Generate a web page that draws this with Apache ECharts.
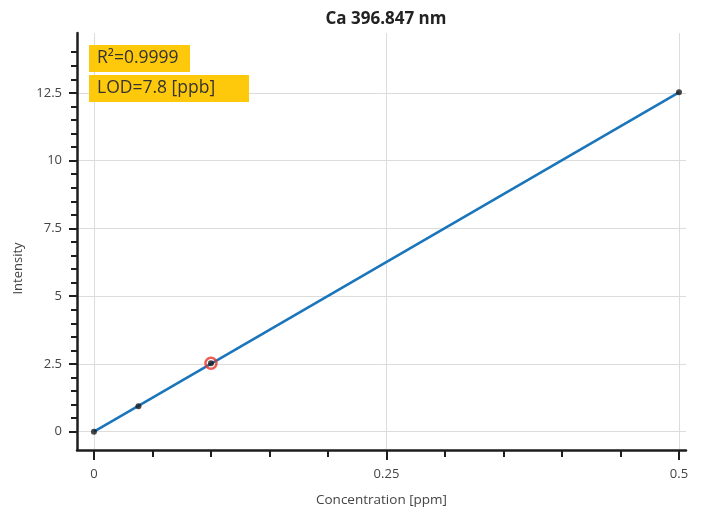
<!DOCTYPE html>
<html>
<head>
<meta charset="utf-8">
<script src="https://cdn.jsdelivr.net/npm/echarts@6/dist/echarts.min.js"></script>
<style>html,body{margin:0;padding:0;background:#fff}#c{width:707px;height:512px}</style>
</head>
<body>
<div id="c"></div>
<script>
// Data
var POINTS_X = [0, 0.038, 0.1, 0.5];
var POINTS_Y = [0, 0.94, 2.525, 12.52];
var HIGHLIGHT_X = [0.1];
var HIGHLIGHT_Y = [2.525];
var FIT_X = [0, 0.5];
var FIT_Y = [0, 12.52];
var X_MAJOR = [0, 0.25, 0.5];
var X_MINOR = [0, 0.05, 0.1, 0.15, 0.2, 0.25, 0.3, 0.35, 0.4, 0.45, 0.5];
var Y_MAJOR = [0, 2.5, 5, 7.5, 10, 12.5];
var Y_MINOR = [0,0.5,1,1.5,2,2.5,3,3.5,4,4.5,5,5.5,6,6.5,7,7.5,8,8.5,9,9.5,10,10.5,11,11.5,12,12.5,13,13.5,14];
var TITLE = 'Ca 396.847 nm';
var X_NAME = 'Concentration [ppm]';
var Y_NAME = 'Intensity';
var R2_TEXT = 'R²=0.9999';
var LOD_TEXT = 'LOD=7.8 [ppb]';

var FONT = 'Open Sans';
var XMIN = -0.0145, XMAX = 0.506, YMIN = -0.676, YMAX = 14.71;

function zip(a, b) { return a.map(function (v, i) { return [v, b[i]]; }); }

var chart = echarts.init(document.getElementById('c'), null, {renderer: 'canvas'});
var axisLineStyle = {color: '#1e1e1e', width: 2.5};
var option = {
  animation: false,
  textStyle: {fontFamily: FONT},
  title: {
    text: TITLE, left: 381, top: 6, textAlign: 'center',
    textStyle: {fontFamily: FONT, fontSize: 17, fontWeight: 'bold', color: '#222'}
  },
  grid: {left: 77, right: 21, top: 33, bottom: 58, containLabel: false},
  xAxis: [
    {
      type: 'value', min: XMIN, max: XMAX, position: 'bottom',
      name: X_NAME, nameLocation: 'middle', nameGap: 43,
      nameTextStyle: {fontFamily: FONT, fontSize: 13.5, color: '#444'},
      axisLine: {show: true, onZero: false, lineStyle: axisLineStyle},
      axisTick: {show: true, customValues: X_MAJOR, length: 10, lineStyle: {color: '#1e1e1e', width: 2}},
      axisLabel: {customValues: X_MAJOR, margin: 18, color: '#444', fontSize: 13, fontFamily: FONT},
      splitLine: {show: true, lineStyle: {color: '#dcdcdc', width: 1}}
    },
    {
      type: 'value', min: XMIN, max: XMAX, position: 'bottom',
      axisLine: {show: false, onZero: false},
      axisTick: {show: true, customValues: X_MINOR, length: 7, lineStyle: {color: '#1e1e1e', width: 2}},
      axisLabel: {show: false},
      splitLine: {show: false}
    }
  ],
  yAxis: [
    {
      type: 'value', min: YMIN, max: YMAX, position: 'left',
      name: Y_NAME, nameLocation: 'middle', nameGap: 52, nameRotate: 90,
      nameTextStyle: {fontFamily: FONT, fontSize: 13, color: '#444', padding: [0, 54, 0, 0]},
      axisLine: {show: true, onZero: false, lineStyle: axisLineStyle},
      axisTick: {show: true, customValues: Y_MAJOR, length: 8, lineStyle: {color: '#1e1e1e', width: 2}},
      axisLabel: {customValues: Y_MAJOR, margin: 15, color: '#444', fontSize: 13, fontFamily: FONT, verticalAlign: 'middle', padding: [0, 0, 5, 0]},
      splitLine: {show: true, lineStyle: {color: '#dcdcdc', width: 1}}
    },
    {
      type: 'value', min: YMIN, max: YMAX, position: 'left',
      axisLine: {show: false, onZero: false},
      axisTick: {show: true, customValues: Y_MINOR, length: 6, lineStyle: {color: '#1e1e1e', width: 2}},
      axisLabel: {show: false},
      splitLine: {show: false}
    }
  ],
  series: [
    {
      type: 'line', xAxisIndex: 0, yAxisIndex: 0, data: zip(FIT_X, FIT_Y),
      showSymbol: false, symbol: 'none',
      lineStyle: {color: '#1a75bb', width: 2.5}, z: 2
    },
    {
      type: 'scatter', xAxisIndex: 0, yAxisIndex: 0, data: zip(HIGHLIGHT_X, HIGHLIGHT_Y),
      symbol: 'circle', symbolSize: 11,
      itemStyle: {color: 'rgba(255,255,255,0)', borderColor: '#e8342c', borderWidth: 2.5}, z: 3
    },
    {
      type: 'scatter', xAxisIndex: 0, yAxisIndex: 0, data: zip(POINTS_X, POINTS_Y),
      symbol: 'circle', symbolSize: 6,
      itemStyle: {color: '#1a1a1a'}, z: 4
    }
  ],
  graphic: [
    {type: 'rect', left: 89, top: 45, shape: {width: 101, height: 27}, style: {fill: '#ffc90b'}, z: 10},
    {type: 'text', left: 97, top: 46, style: {text: R2_TEXT, font: '17.5px "' + FONT + '"', fill: '#333', lineHeight: 24, verticalAlign: 'top'}, z: 11},
    {type: 'rect', left: 89, top: 75, shape: {width: 160, height: 27}, style: {fill: '#ffc90b'}, z: 10},
    {type: 'text', left: 97, top: 76, style: {text: LOD_TEXT, font: '17.5px "' + FONT + '"', fill: '#333', lineHeight: 24, verticalAlign: 'top'}, z: 11}
  ]
};
chart.setOption(option);
</script>
</body>
</html>
